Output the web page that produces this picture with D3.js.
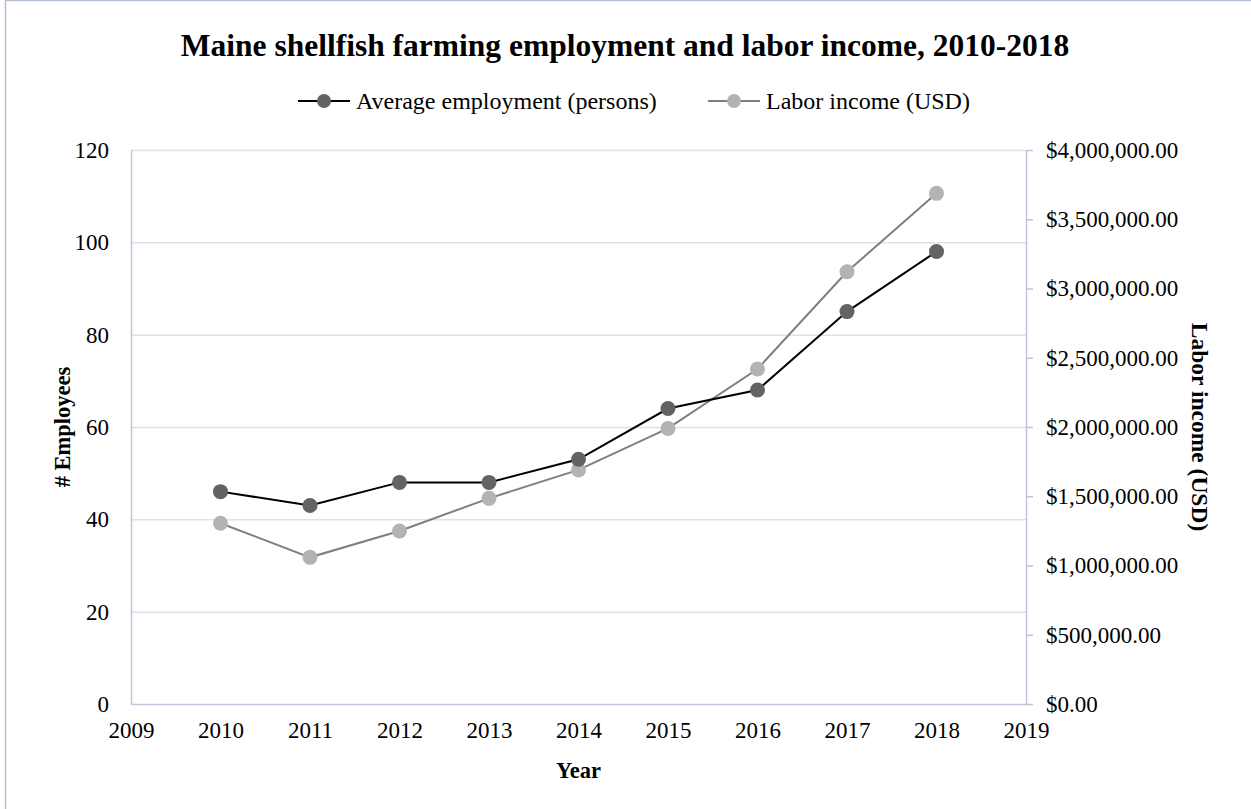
<!DOCTYPE html>
<html>
<head>
<meta charset="utf-8">
<script src="https://cdn.jsdelivr.net/npm/d3@7"></script>
<style>
  html, body { margin: 0; padding: 0; background: #fff; }
  svg { display: block; font-family: "Liberation Serif", "Times New Roman", serif; }
</style>
</head>
<body>
<svg id="chart" width="1251" height="809"></svg>
<script>
// Years and the two series plotted against them
const years = [2010, 2011, 2012, 2013, 2014, 2015, 2016, 2017, 2018];
const employment = [46, 43, 48, 48, 53, 64, 68, 85, 98];
const laborIncome = [1305000, 1059000, 1249000, 1485000, 1690000, 1990000, 2419000, 3121000, 3687000];

// Axis ticks
const yearTicks = [2009, 2010, 2011, 2012, 2013, 2014, 2015, 2016, 2017, 2018, 2019];
const employeeTicks = [0, 20, 40, 60, 80, 100, 120];
const incomeTicks = [0, 500000, 1000000, 1500000, 2000000, 2500000, 3000000, 3500000, 4000000];

const svg = d3.select("#chart");
const W = 1251, H = 809;
const plot = { left: 131, right: 1026, top: 150, bottom: 704 };

const axisColor = "#BCC6D6";
const gridColor = "#DDE2EA";
const tickFont = 23;

// Outer frame (top and left edges visible)
svg.append("rect")
  .attr("x", 5.5).attr("y", 0.5)
  .attr("width", W + 10).attr("height", H + 10)
  .attr("fill", "#fff")
  .attr("stroke", "#B4BFD0").attr("stroke-width", 1.5);

const x = d3.scaleLinear().domain([2009, 2019]).range([plot.left, plot.right]);
const yL = d3.scaleLinear().domain([0, 120]).range([plot.bottom, plot.top]);
const yR = d3.scaleLinear().domain([0, 4000000]).range([plot.bottom, plot.top]);

// Horizontal gridlines
svg.append("g")
  .selectAll("line")
  .data(employeeTicks.filter(d => d > 0))
  .join("line")
  .attr("x1", plot.left).attr("x2", plot.right)
  .attr("y1", d => yL(d) + 0.5).attr("y2", d => yL(d) + 0.5)
  .attr("stroke", gridColor).attr("stroke-width", 1.5);

// Left axis
const leftAxis = svg.append("g")
  .attr("transform", `translate(${plot.left},0)`)
  .call(d3.axisLeft(yL).tickValues(employeeTicks).tickSize(0).tickPadding(22));
leftAxis.select(".domain").attr("stroke", axisColor).attr("stroke-width", 1.5);

// Right axis
const fmtUSD = d3.format("$,.2f");
const rightAxis = svg.append("g")
  .attr("transform", `translate(${plot.right},0)`)
  .call(d3.axisRight(yR).tickValues(incomeTicks).tickSize(7).tickSizeOuter(0).tickPadding(13).tickFormat(fmtUSD));
rightAxis.select(".domain").attr("stroke", axisColor).attr("stroke-width", 1.5);
rightAxis.selectAll(".tick line").attr("stroke", axisColor).attr("stroke-width", 1.5);

// Bottom axis
const bottomAxis = svg.append("g")
  .attr("transform", `translate(0,${plot.bottom})`)
  .call(d3.axisBottom(x).tickValues(yearTicks).tickSize(0).tickPadding(18).tickFormat(d3.format("d")));
bottomAxis.select(".domain").attr("stroke", axisColor).attr("stroke-width", 1.5);

svg.selectAll("g.tick text")
  .attr("font-family", "Liberation Serif, Times New Roman, serif")
  .attr("font-size", tickFont)
  .attr("fill", "#000");
[leftAxis, rightAxis, bottomAxis].forEach(a => a.attr("font-size", tickFont).attr("font-family", "Liberation Serif, serif"));

// Axis titles
svg.append("text")
  .attr("transform", `translate(62,${(plot.top + plot.bottom) / 2}) rotate(-90)`)
  .attr("text-anchor", "middle").attr("dominant-baseline", "central")
  .attr("font-size", 22.5).attr("font-weight", "bold")
  .text("# Employees");

svg.append("text")
  .attr("transform", `translate(1200,${(plot.top + plot.bottom) / 2}) rotate(90)`)
  .attr("text-anchor", "middle").attr("dominant-baseline", "central")
  .attr("font-size", 23.5).attr("font-weight", "bold")
  .text("Labor income (USD)");

svg.append("text")
  .attr("x", (plot.left + plot.right) / 2).attr("y", 778)
  .attr("text-anchor", "middle")
  .attr("font-size", 22.5).attr("font-weight", "bold")
  .text("Year");

// Title
svg.append("text")
  .attr("x", 625).attr("y", 56)
  .attr("text-anchor", "middle")
  .attr("font-size", 31.5).attr("font-weight", "bold")
  .text("Maine shellfish farming employment and labor income, 2010-2018");

// Series
const seriesList = [
  { name: "Labor income (USD)", values: laborIncome, y: yR, line: "#7F7F7F", dot: "#B3B3B3" },
  { name: "Average employment (persons)", values: employment, y: yL, line: "#000000", dot: "#636363" }
];

seriesList.forEach(s => {
  const line = d3.line().x((d, i) => x(years[i])).y(d => s.y(d));
  svg.append("path")
    .datum(s.values)
    .attr("d", line)
    .attr("fill", "none")
    .attr("stroke", s.line).attr("stroke-width", 2);
  svg.append("g")
    .selectAll("circle")
    .data(s.values)
    .join("circle")
    .attr("cx", (d, i) => x(years[i]))
    .attr("cy", d => s.y(d))
    .attr("r", 7.5)
    .attr("fill", s.dot);
});

// Legend
const legendItems = [
  { name: "Average employment (persons)", line: "#000000", dot: "#636363", x: 298 },
  { name: "Labor income (USD)", line: "#7F7F7F", dot: "#B3B3B3", x: 708 }
];
const ly = 101;
legendItems.forEach(item => {
  const g = svg.append("g").attr("transform", `translate(${item.x},${ly})`);
  g.append("line").attr("x1", 0).attr("x2", 52).attr("y1", 0).attr("y2", 0)
    .attr("stroke", item.line).attr("stroke-width", 2);
  g.append("circle").attr("cx", 26).attr("cy", 0).attr("r", 7).attr("fill", item.dot);
  g.append("text").attr("x", 58).attr("y", 0)
    .attr("dominant-baseline", "central")
    .attr("font-size", 24)
    .text(item.name);
});
</script>
</body>
</html>
